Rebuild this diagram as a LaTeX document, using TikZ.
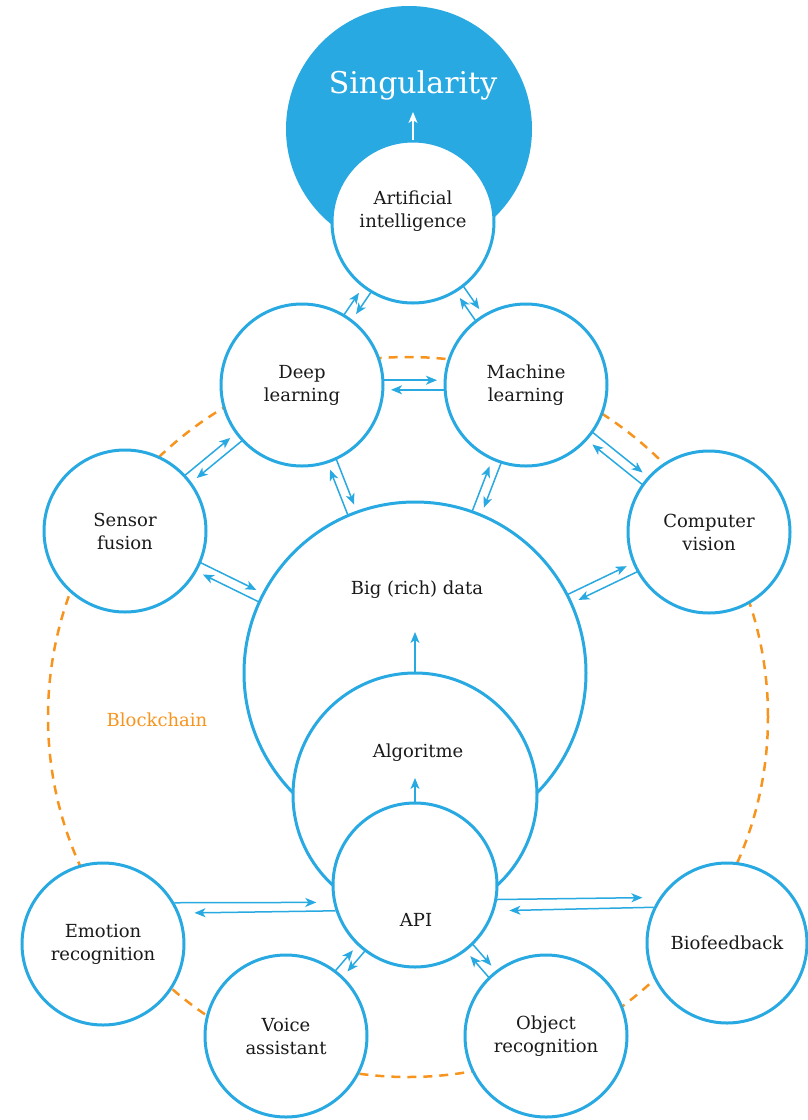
\documentclass[tikz,border=0pt]{standalone}
\usepackage{fontspec}
\setmainfont{DejaVu Serif}
\usepackage{tikz}
\usetikzlibrary{arrows.meta,calc}
\usepackage{xcolor}
\definecolor{skyblue}{HTML}{29A9E1}
\definecolor{chainorange}{HTML}{F7941D}
\definecolor{inkgray}{HTML}{1A1A1A}

\tikzset{
  bubble/.style={circle,draw=skyblue,line width=3pt,fill=white,minimum size=162pt,
    inner sep=0pt,align=center,text=inkgray,font=\fontsize{18}{23}\selectfont},
  caption/.style={align=center,text=inkgray,font=\fontsize{18}{23}\selectfont},
  flow/.style={draw=skyblue,line width=1.5pt,-{Stealth[length=11pt,width=9pt,inset=3pt]}},
}

\begin{document}
\begin{tikzpicture}[x=1pt,y=-1pt]
			\useasboundingbox (0,0) rectangle (808,1120);
			% blockchain ring behind everything
			\draw[chainorange,line width=2.5pt,dash pattern=on 9pt off 7pt] (408,717) circle[radius=360pt];
			\node[text=chainorange,font=\fontsize{18}{23}\selectfont] (chain) at (157,720) {Blockchain};
			% singularity on top
			\node[circle,fill=skyblue,minimum size=246pt] (sing) at (409,129) {};
			\node[text=white,font=\fontsize{30}{36}\selectfont] (singtext) at (413,85) {Singularity};
			\node[bubble] (ai) at (413,222) {};
			\node[caption] (aitext) at (413,211) {Artificial\\intelligence};
			\coordinate (aitip) at (413,112);
			\draw[flow,draw=white] (ai.north) -- (aitip);
			% ring of techniques
			\node[bubble] (deep) at (302,385) {Deep\\learning};
			\node[bubble] (machine) at (526,385) {Machine\\learning};
			\node[bubble] (sensor) at (125,531) {Sensor\\fusion};
			\node[bubble] (vision) at (709,532) {Computer\\vision};
			% data stack
			\node[bubble,minimum size=342pt] (bigdata) at (415,673) {};
			\node[bubble,minimum size=244pt] (algo) at (415,795) {};
			\node[bubble,minimum size=164pt] (api) at (415,885) {};
			\node[caption] (bigtext) at (417,590) {Big (rich) data};
			\node[caption] (algotext) at (418,753) {Algoritme};
			\node[caption] (apitext) at (416,920) {API};
			\coordinate (bigtip) at (415,632);
			\coordinate (algotip) at (415,778);
			\draw[flow] (algo.north) -- (bigtip);
			\draw[flow] (api.north) -- (algotip);
			% applications
			\node[bubble] (emotion) at (103,944) {Emotion\\recognition};
			\node[bubble] (voice) at (286,1036) {Voice\\assistant};
			\node[bubble] (object) at (546,1036) {Object\\recognition};
			\node[bubble,minimum size=160pt] (biofeed) at (727,943) {Biofeedback};
			% two-way links
			\foreach \from/\to/\rfrom/\rto in {deep/ai/81/81, machine/ai/81/81, deep/machine/81/81,
				sensor/deep/81/81, sensor/bigdata/81/171, deep/bigdata/81/171, bigdata/machine/171/81,
				vision/machine/81/81, bigdata/vision/171/81, voice/api/81/82, object/api/81/82}
			{
				\draw[flow,shorten <=\rfrom pt,shorten >=\rto pt+8pt]
					($(\from.center)!4.8pt!90:(\to.center)$) -- ($(\to.center)!4.8pt!-90:(\from.center)$);
				\draw[flow,shorten <=\rto pt,shorten >=\rfrom pt+8pt]
					($(\to.center)!4.8pt!90:(\from.center)$) -- ($(\from.center)!4.8pt!-90:(\to.center)$);
			}
			\draw[flow,shorten >=17pt] (emotion.30) -- (api.192);
			\draw[flow,shorten >=15pt] (api.198) -- (emotion.22);
			\draw[flow,shorten >=17pt] (api.350) -- (biofeed.146);
			\draw[flow,shorten >=15pt] (biofeed.154) -- (api.342);
\end{tikzpicture}
\end{document}
